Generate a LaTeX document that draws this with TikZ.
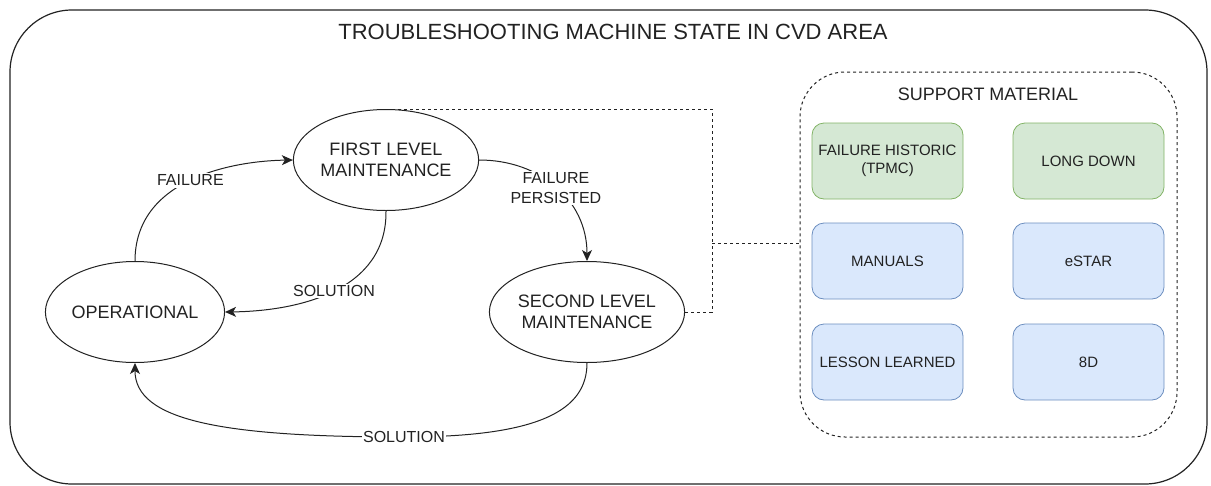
\documentclass[tikz,border=0pt]{standalone}
\usepackage{fontspec}
\setmainfont{Liberation Sans}
\usetikzlibrary{shapes.geometric,arrows.meta}

\definecolor{greenfill}{HTML}{D5E8D4}
\definecolor{greenline}{HTML}{82B366}
\definecolor{bluefill}{HTML}{DAE8FC}
\definecolor{blueline}{HTML}{6C8EBF}
\definecolor{ink}{HTML}{222222}

\tikzset{
  state/.style={ellipse, draw=ink, line width=1pt, minimum width=152pt, minimum height=101pt,
    inner sep=0pt, align=center, text=ink, font=\fontsize{18}{21}\selectfont},
  flow/.style={draw=ink, line width=1pt, -{Stealth[length=11pt,width=10pt,inset=3pt]}},
  lbl/.style={fill=white, inner sep=1.5pt, align=center, text=ink, font=\fontsize{16}{20}\selectfont},
  link/.style={draw=ink, line width=1pt, dash pattern=on 3pt off 3pt},
  greenbox/.style={rectangle, rounded corners=12pt, draw=greenline, fill=greenfill, line width=0.8pt,
    minimum width=151pt, minimum height=76pt, align=center, text=ink, font=\fontsize{15}{18}\selectfont},
  bluebox/.style={greenbox, draw=blueline, fill=bluefill},
}

\begin{document}
\begin{tikzpicture}[x=1pt, y=-1pt]
  \useasboundingbox (0,0) rectangle (1211,485);

  % outer frame and heading
  \draw[ink, line width=1.2pt, rounded corners=62pt] (10,10) rectangle (1207,484);
  \node[text=ink, font=\fontsize{22}{26}\selectfont] (title) at (613,32) {TROUBLESHOOTING MACHINE STATE IN CVD AREA};

  % machine states
  \node[state] (op) at (135,312) {OPERATIONAL};
  \node[state] (first) at (386,160) {FIRST LEVEL\\MAINTENANCE};
  \node[state] (second) at (587,312) {SECOND LEVEL\\MAINTENANCE};

  % transitions
  \draw[flow] (op.north) .. controls (135,180) and (230,161) .. node[lbl] {FAILURE} (first.west);
  \draw[flow] (first.south) .. controls (387,290) and (300,311) .. node[lbl] {SOLUTION} (op.east);
  \draw[flow] (first.east) .. controls (540,160) and (587,200) .. node[lbl] {FAILURE\\PERSISTED} (second.north);
  \draw[flow] (second.south) .. controls (587,410) and (540,437) .. (404,437)
    node[lbl, inner sep=1pt] (sol2) {SOLUTION}
    .. controls (220,437) and (135,420) .. (op.south);

  % support material panel
  \node[rectangle, rounded corners=45pt, link, minimum width=377pt, minimum height=365pt] (support) at (988.5,254.5) {};
  \node[text=ink, font=\fontsize{18}{22}\selectfont] (suptitle) at (988,94) {SUPPORT MATERIAL};
  \node[greenbox] (b1) at (887.5,161) {FAILURE HISTORIC\\(TPMC)};
  \node[greenbox] (b2) at (1088.5,161) {LONG DOWN};
  \node[bluebox] (b3) at (887.5,261) {MANUALS};
  \node[bluebox] (b4) at (1088.5,261) {eSTAR};
  \node[bluebox] (b5) at (887.5,362) {LESSON LEARNED};
  \node[bluebox] (b6) at (1088.5,362) {8D};

  % dashed links from maintenance levels to the support panel
  \coordinate (jn) at (712,243);
  \draw[link] (first.north) -| (jn);
  \draw[link] (second.east) -| (jn);
  \draw[link] (jn) -- (jn -| support.west);
\end{tikzpicture}
\end{document}
